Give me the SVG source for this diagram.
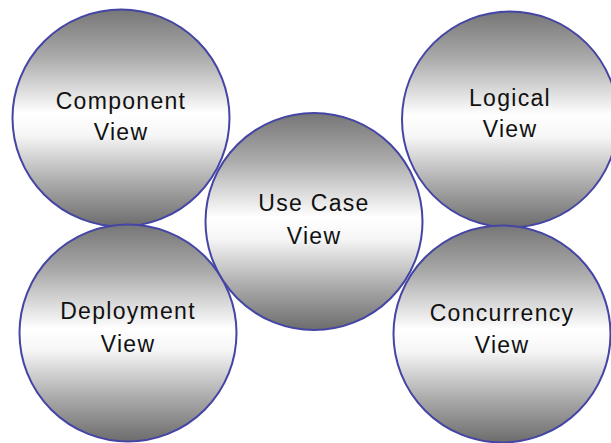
<svg xmlns="http://www.w3.org/2000/svg" width="611" height="443" viewBox="0 0 611 443">
<defs>
<linearGradient id="g" x1="0" y1="0" x2="0" y2="1">
<stop offset="0" stop-color="#767676"/>
<stop offset="0.22" stop-color="#ababab"/>
<stop offset="0.48" stop-color="#ffffff"/>
<stop offset="0.58" stop-color="#f6f6f6"/>
<stop offset="0.8" stop-color="#aaaaaa"/>
<stop offset="1" stop-color="#6c6c6c"/>
</linearGradient>
</defs>
<style>
.c{fill:url(#g);stroke:#4545a5;stroke-width:2}
.t{font-family:"Liberation Sans",Arial,sans-serif;font-size:23px;letter-spacing:1.3px;fill:#111;text-anchor:middle}
</style>
<rect width="611" height="443" fill="#fff"/>
<g id="component">
<circle class="c" cx="121" cy="118" r="108.5"/>
<text class="t" x="121" y="109">Component</text>
<text class="t" x="121" y="140">View</text>
</g>
<g id="logical">
<circle class="c" cx="510" cy="119.5" r="108"/>
<text class="t" x="510" y="106">Logical</text>
<text class="t" x="510" y="137">View</text>
</g>
<g id="deployment">
<circle class="c" cx="128" cy="333" r="108.5"/>
<text class="t" x="128" y="319">Deployment</text>
<text class="t" x="128" y="352">View</text>
</g>
<g id="concurrency">
<circle class="c" cx="502" cy="334" r="108.5"/>
<text class="t" x="502" y="321">Concurrency</text>
<text class="t" x="502" y="353">View</text>
</g>
<g id="usecase">
<circle class="c" cx="314" cy="221.5" r="108.5"/>
<text class="t" x="314" y="211">Use Case</text>
<text class="t" x="314" y="244">View</text>
</g>
</svg>
